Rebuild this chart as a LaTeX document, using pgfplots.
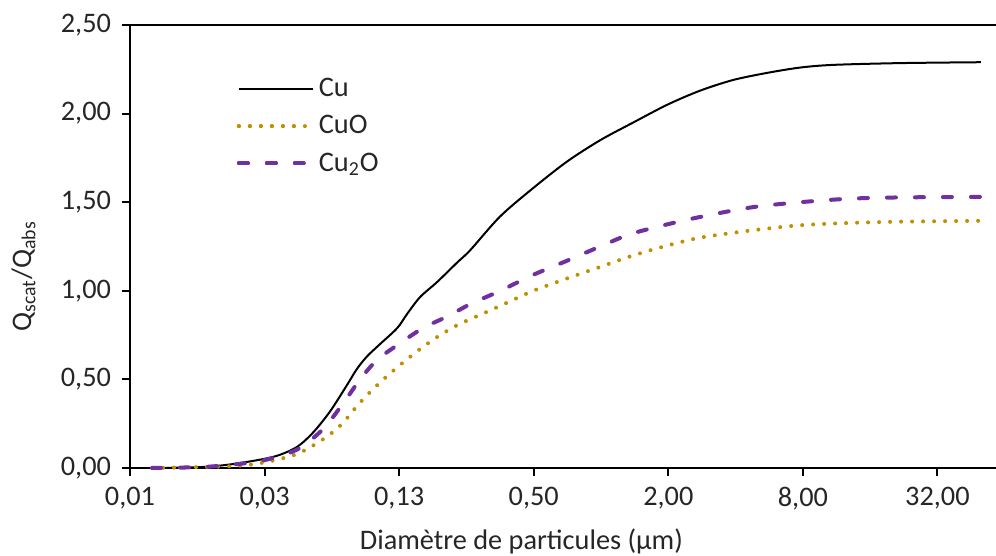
\documentclass[border=0pt]{standalone}
\usepackage{pgfplots}
\pgfplotsset{compat=1.18}
\usepackage{pgfplotstable}
\usepackage{fontspec}
\setmainfont{Carlito}
\definecolor{cuo}{HTML}{BF9000}
\definecolor{cutwoo}{HTML}{7030A0}
\definecolor{txt}{HTML}{262626}

\pgfplotstableread{
x y
0.0098 0.000
0.0161 0.005
0.0219 0.020
0.0307 0.050
0.0367 0.075
0.0438 0.120
0.0515 0.200
0.0614 0.320
0.0732 0.470
0.0810 0.560
0.0898 0.630
0.1028 0.700
0.1226 0.790
0.1358 0.870
0.1552 0.965
0.1850 1.050
0.2274 1.160
0.2603 1.230
0.3540 1.420
0.4975 1.580
0.706 1.730
0.992 1.850
1.395 1.950
1.979 2.050
2.782 2.130
3.909 2.190
5.549 2.230
7.80 2.260
10.96 2.275
21.86 2.285
50.0 2.290
}\cu

\pgfplotstableread{
x y
0.0098 0.000
0.0219 0.010
0.0307 0.030
0.0438 0.080
0.0583 0.170
0.0695 0.250
0.0810 0.350
0.0946 0.440
0.1118 0.525
0.1330 0.605
0.1584 0.680
0.1906 0.750
0.2342 0.815
0.2603 0.840
0.3540 0.915
0.4975 1.000
0.706 1.070
0.992 1.135
1.395 1.200
1.979 1.255
2.782 1.300
4.66 1.340
7.80 1.370
13.05 1.383
21.86 1.390
50.0 1.395
}\cuo

\pgfplotstableread{
x y
0.0098 0.000
0.0161 0.005
0.0219 0.018
0.0307 0.042
0.0438 0.105
0.0571 0.220
0.0702 0.365
0.0836 0.500
0.0996 0.610
0.1264 0.705
0.1600 0.790
0.2050 0.855
0.2603 0.925
0.3540 1.000
0.4975 1.090
0.706 1.170
0.992 1.250
1.395 1.325
2.51 1.405
4.66 1.470
7.80 1.500
13.05 1.520
21.86 1.527
50.0 1.530
}\cutwoo

\begin{document}
\begin{tikzpicture}
\begin{axis}[
  scale only axis,
  width=433bp, height=221.5bp,
  xmode=log, log basis x=2,
  xmin=0.0078125, xmax=58.5,
  ymin=0, ymax=2.5,
  axis lines*=left,
  axis line style={line width=1bp, black},
  every tick/.style={line width=1bp, black},
  tick align=outside,
  major tick length=4bp,
  xtick={0.0078125,0.03125,0.125,0.5,2,8,32},
  xticklabels={{0,01},{0,03},{0,13},{0,50},{2,00},{8,00},{32,00}},
  ytick={0,0.5,1,1.5,2,2.5},
  yticklabels={{0,00},{0,50},{1,00},{1,50},{2,00},{2,50}},
  minor tick num=0,
  font=\fontsize{14.2}{17}\selectfont,
  tick label style={text=txt, font=\fontsize{14.2}{17}\selectfont},
  yticklabel style={xshift=-2bp},
  xticklabel style={yshift=-2bp},
  xlabel={Diamètre de particules (µm)},
  ylabel={Q\textsubscript{scat}/Q\textsubscript{abs}},
  every axis x label/.style={at={(axis description cs:0.452,-0.166)}, anchor=center, text=txt, font=\fontsize{14.2}{17}\selectfont},
  every axis y label/.style={at={(axis description cs:-0.123,0.433)}, anchor=center, rotate=90, text=txt, font=\fontsize{14.2}{17}\selectfont},
  clip=false,
  legend style={draw=none, fill=none, at={(axis description cs:0.123,0.89)}, anchor=north west,
    font=\fontsize{14.2}{17}\selectfont, text=txt, row sep=4bp, inner sep=0pt},
  legend cell align=left,
  legend image code/.code={\draw[#1] (0bp,0bp) -- (31.5bp,0bp); \path (0bp,0bp) -- (37bp,0bp);},
]
\addplot[black, line width=1bp, smooth] table {\cu};
\addlegendentry{Cu}
\addplot[cuo, line width=2bp, line cap=round, dash pattern=on 0bp off 5.5bp, smooth] table {\cuo};
\addlegendentry{CuO}
\addplot[cutwoo, line width=2bp, line cap=round, dash pattern=on 4.5bp off 9.5bp, smooth] table {\cutwoo};
\addlegendentry{Cu\textsubscript{2}O}
\draw[line width=1bp, black] (rel axis cs:0,1) -- (rel axis cs:1,1);
\end{axis}
\pgfresetboundingbox
\path[use as bounding box] (-65bp,-44bp) rectangle (433bp,234bp);
\end{tikzpicture}
\end{document}
